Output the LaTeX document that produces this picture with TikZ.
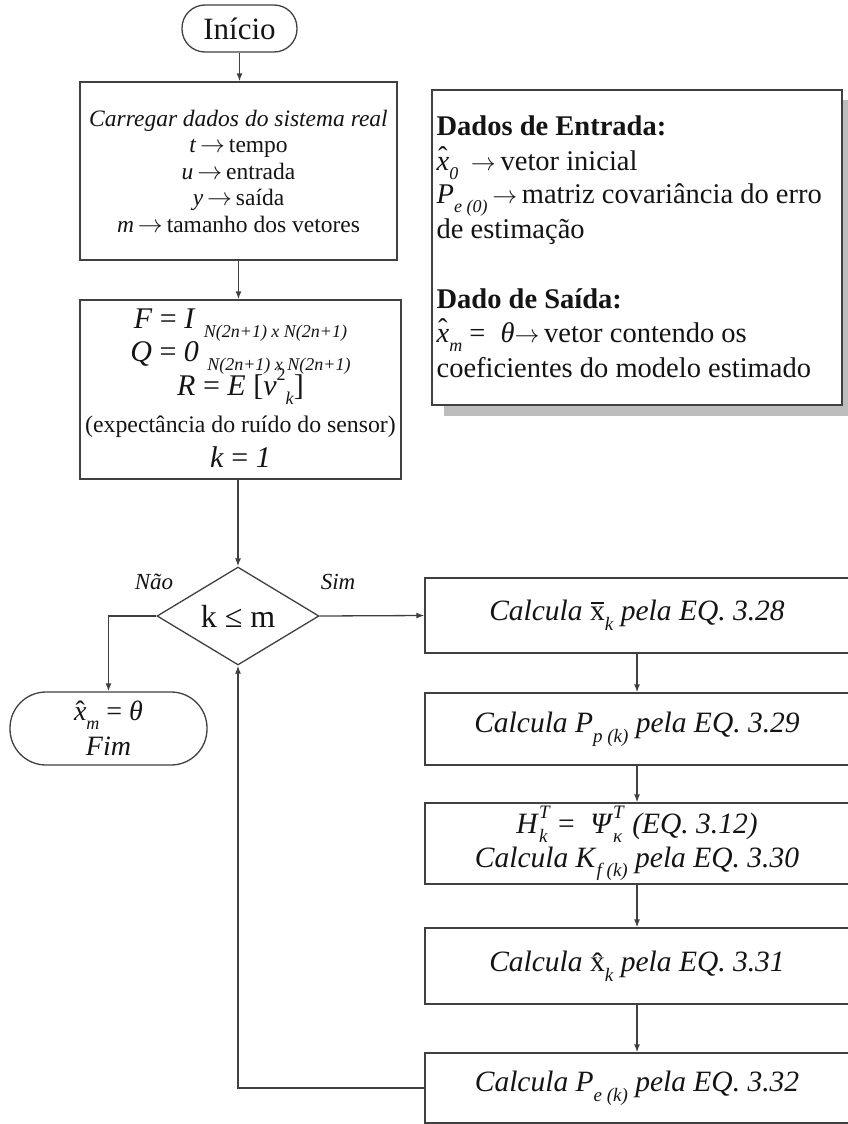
\documentclass[tikz,border=0pt]{standalone}
\usepackage{fontspec}
\setmainfont{Liberation Serif}
\usetikzlibrary{shapes.geometric,arrows.meta}
\definecolor{ln}{HTML}{404040}
\definecolor{tx}{HTML}{141414}
\definecolor{shd}{HTML}{BDBDBD}
\newcommand\lo[2]{\raisebox{-0.33em}{\fontsize{#1}{#1}\selectfont #2}}
\newcommand\hi[2]{\raisebox{0.5em}{\fontsize{#1}{#1}\selectfont #2}}
\newcommand\lohi[2]{\rlap{\lo{19}{\textit{#1}}}\hi{19}{\textit{#2}}}
\newcommand\hatx[2][0.05em]{{\ooalign{#2\cr\hidewidth\raisebox{#1}{\char"02C6}\hidewidth\cr}}}
\newcommand\barx[1]{{\ooalign{#1\cr\hidewidth\rule[0.58em]{0.42em}{0.045em}\hidewidth\cr}}}
\newcommand\ar{\,$\rightarrow$\,}
\begin{document}
\lineskiplimit=-100pt\relax
\begin{tikzpicture}[x=1pt,y=-1pt,line width=1.3pt,color=ln,
  box/.style={draw=ln,rectangle,inner sep=0pt,align=center,text=tx},
  arr/.style={-{Latex[length=8pt,width=6pt]}},
  lbl/.style={text=tx,inner sep=0pt},
  fmain/.style={font=\fontsize{29.5}{34}\selectfont}]
\useasboundingbox (0,0) rectangle (847,1124);

% start
\node[box,rounded corners=23pt,minimum width=115pt,minimum height=47pt,
  font=\fontsize{31}{36}\selectfont] (start) at (239.5,28.5) {Início};

% load data
\node[box,minimum width=317pt,minimum height=178pt,
  font=\fontsize{23.5}{26.5}\selectfont] (load) at (238.5,171)
  {\textit{Carregar dados do sistema real}\\
   \textit{t}\ar tempo\\
   \textit{u}\ar entrada\\
   \textit{y}\ar saída\\
   \textit{m}\ar tamanho dos vetores};

% init
\node[box,minimum width=321pt,minimum height=179pt] (init) at (240.5,389.5) {};
\begin{scope}[every node/.style={lbl,anchor=base,font=\fontsize{30}{34}\selectfont}]
\node (i1) at (240.5,328) {\textit{F} = \textit{I}\;\lo{18}{\textit{N(2n+1) x N(2n+1)}}};
\node (i2) at (240.5,361) {\textit{Q} = \textit{0}\;\lo{18}{\textit{N(2n+1) x N(2n+1)}}};
\node (i3) at (240.5,395) {\textit{R} = \textit{E} [\textit{v}\hi{18}{2}\lo{18}{\textit{k}}]};
\node[font=\fontsize{23.8}{28}\selectfont] (i4) at (240.5,432) {(expectância do ruído do sensor)};
\node (i5) at (240.5,467) {\textit{k} = \textit{1}};
\end{scope}

% data box with shadow
\fill[shd] (444,100) rectangle (854,416);
\node[box,fill=white,minimum width=410pt,minimum height=315pt] (data) at (637,247.5) {};
\begin{scope}[every node/.style={lbl,anchor=base west,font=\fontsize{28.5}{34}\selectfont}]
\node (d1) at (436,135) {\textbf{Dados de Entrada:}};
\node (d2) at (436,170) {\hatx[0.12em]{\textit{x}}\lo{18}{\textit{0}}\;\ar vetor inicial};
\node (d3) at (436,203) {\textit{P}\lo{18}{\textit{e (0)}}\ar matriz covariância do erro};
\node (d4) at (436,238) {de estimação};
\node (d5) at (436,308) {\textbf{Dado de Saída:}};
\node (d6) at (436,342) {\hatx[0.12em]{\textit{x}}\lo{18}{\textit{m}} = \;\textit{θ}$\rightarrow$\,vetor contendo os};
\node (d7) at (436,377) {coeficientes do modelo estimado};
\end{scope}

% decision
\node[diamond,draw=ln,aspect=1.653,minimum width=162pt,minimum height=98pt,inner sep=0pt,
  text=tx,font=\fontsize{32}{34}\selectfont] (dec) at (238,616) {k ≤ m};
\node[lbl,font=\fontsize{23}{26}\selectfont] (nao) at (154,582) {\textit{Não}};
\node[lbl,font=\fontsize{23}{26}\selectfont] (sim) at (338,582) {\textit{Sim}};

% end
\node[box,rounded corners=36pt,minimum width=197pt,minimum height=73pt] (fim) at (108.5,728.5) {};
\node[lbl,anchor=base,font=\fontsize{28}{33}\selectfont] (f1) at (108.5,720)
  {\hatx[0em]{\textit{x}}\lo{18}{\textit{m}} = \textit{θ}};
\node[lbl,anchor=base,font=\fontsize{28}{33}\selectfont] (f2) at (108.5,755) {\textit{Fim}};

% right column
\node[box,fmain,minimum width=424pt,minimum height=75pt] (r1) at (637,615.5)
  {\textit{Calcula} \barx{x}\lo{19}{\textit{k}} \textit{pela EQ. 3.28}};
\node[box,fmain,minimum width=424pt,minimum height=72pt] (r2) at (637,729)
  {\textit{Calcula P}\lo{19}{\textit{p (k)}} \textit{pela EQ. 3.29}};
\node[box,fmain,minimum width=424pt,minimum height=81pt] (r3) at (637,843.5)
  {\textit{H}\lohi{k}{T} = \;\textit{Ψ}\lohi{κ}{T} \textit{(EQ. 3.12)}\\
   \textit{Calcula K}\lo{19}{\textit{f (k)}} \textit{pela EQ. 3.30}};
\node[box,fmain,minimum width=424pt,minimum height=76pt] (r4) at (637,966)
  {\textit{Calcula} \hatx[-0.08em]{x}\lo{19}{\textit{k}} \textit{pela EQ. 3.31}};
\node[box,fmain,minimum width=424pt,minimum height=70pt] (r5) at (637,1088)
  {\textit{Calcula P}\lo{19}{\textit{e (k)}} \textit{pela EQ. 3.32}};

% connectors
\draw[arr] (start.south) -- (start.south |- load.north);
\draw[arr] (load.south) -- (load.south |- init.north);
\draw[arr] (dec.north |- init.south) -- (dec.north);
\draw[arr] (dec.east) -- (r1.west);
\draw[arr] (dec.west) -| (fim.north);
\draw[arr] (r1) -- (r2);
\draw[arr] (r2) -- (r3);
\draw[arr] (r3) -- (r4);
\draw[arr] (r4) -- (r5);
\draw[arr] (r5.west) -| (dec.south);
\end{tikzpicture}
\end{document}
